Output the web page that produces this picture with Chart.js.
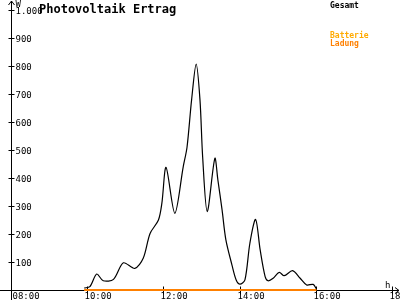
<!DOCTYPE html>
<html>
<head>
<meta charset="utf-8">
<script src="https://cdn.jsdelivr.net/npm/chart.js@4/dist/chart.umd.min.js"></script>
<style>
  html, body { margin: 0; padding: 0; background: #fff; }
  #wrap { width: 400px; height: 300px; }
</style>
</head>
<body>
<div id="wrap"><canvas id="pvChart" width="400" height="300"></canvas></div>
<script>
// values (hours as decimal, watts)
var gesamtTimes = [9.92, 10.07, 10.25, 10.42, 10.69, 10.95, 11.25, 11.47, 11.65, 11.87, 11.96,
  12.07, 12.30, 12.52, 12.62, 12.74, 12.86, 12.96, 13.03, 13.15, 13.35, 13.43, 13.54, 13.64,
  13.80, 13.91, 14.01, 14.14, 14.27, 14.42, 14.54, 14.67, 14.75, 14.88, 15.04, 15.17, 15.39,
  15.59, 15.76, 15.93, 16.02];
var gesamtWatt = [7, 12, 57, 33, 38, 97, 77, 113, 202, 250, 310,
  438, 274, 440, 510, 679, 807, 679, 476, 280, 470, 393, 286, 179,
  89, 36, 21, 36, 167, 252, 143, 48, 33, 42, 63, 51, 69,
  42, 18, 20, 3];
var ladungTimes = [9.92, 16.02];
var ladungWatt = [0, 0];

var xTickHours = [8, 10, 12, 14, 16, 18];
var xTickLabels = ['08:00', '10:00', '12:00', '14:00', '16:00', '18:00'];
var yTickValues = [100, 200, 300, 400, 500, 600, 700, 800, 900, 1000];
var yTickLabels = ['100', '200', '300', '400', '500', '600', '700', '800', '900', '1.000'];

var legendNames = ['Gesamt', 'Batterie', 'Ladung'];
var legendColors = ['#000000', '#ffaa00', '#ff8000'];

var monoFont = '"DejaVu Sans Mono", "Liberation Mono", monospace';

function toPoints(xs, ys) {
  var pts = [];
  for (var i = 0; i < xs.length; i++) pts.push({x: xs[i], y: ys[i]});
  return pts;
}

// axes, ticks and texts drawn the old-fashioned way under the lines
var axesPlugin = {
  id: 'pvAxes',
  beforeDatasetsDraw: function(chart) {
    var ctx = chart.ctx;
    var xs = chart.scales.x;
    var ys = chart.scales.y;
    var x0 = Math.round(xs.getPixelForValue(8)) + 0.5;
    var y0 = Math.round(ys.getPixelForValue(0)) + 0.5;

    ctx.save();
    ctx.strokeStyle = '#000';
    ctx.fillStyle = '#000';
    ctx.lineWidth = 1;

    // y axis with arrow
    ctx.beginPath();
    ctx.moveTo(x0, 300);
    ctx.lineTo(x0, 1);
    ctx.moveTo(x0 - 3, 5);
    ctx.lineTo(x0, 1);
    ctx.lineTo(x0 + 3, 5);
    // x axis with arrow
    ctx.moveTo(0, y0);
    ctx.lineTo(399, y0);
    ctx.moveTo(395, y0 - 3);
    ctx.lineTo(399, y0);
    ctx.lineTo(395, y0 + 3);
    ctx.stroke();

    // y ticks
    ctx.font = '9px ' + monoFont;
    ctx.textAlign = 'left';
    ctx.textBaseline = 'middle';
    for (var i = 0; i < yTickValues.length; i++) {
      var py = Math.round(ys.getPixelForValue(yTickValues[i])) + 0.5;
      ctx.beginPath();
      ctx.moveTo(x0 - 3, py);
      ctx.lineTo(x0 + 3, py);
      ctx.stroke();
      ctx.fillText(yTickLabels[i], x0 + 4, py + 1);
    }
    ctx.fillText('W', x0 + 4, 5);

    // x ticks
    ctx.textBaseline = 'top';
    for (var j = 0; j < xTickHours.length; j++) {
      var px = Math.round(xs.getPixelForValue(xTickHours[j])) + 0.5;
      ctx.beginPath();
      ctx.moveTo(px, y0 - 4);
      ctx.lineTo(px, y0 + 4);
      ctx.stroke();
      ctx.fillText(xTickLabels[j], Math.max(px - 3, x0 + 1), y0 + 2);
    }
    ctx.textBaseline = 'alphabetic';
    ctx.fillText('h', 385, y0 - 3);

    // title
    ctx.font = 'bold 12px ' + monoFont;
    ctx.fillText('Photovoltaik Ertrag', 39, 13);

    // legend texts
    ctx.font = 'bold 8px ' + monoFont;
    ctx.textBaseline = 'top';
    ctx.fillStyle = legendColors[0];
    ctx.fillText(legendNames[0], 330, 2);
    ctx.fillStyle = legendColors[1];
    ctx.fillText(legendNames[1], 330, 32);
    ctx.fillStyle = legendColors[2];
    ctx.fillText(legendNames[2], 330, 40);
    ctx.restore();
  }
};

var pvChart = new Chart(document.getElementById('pvChart'), {
  type: 'line',
  data: {
    datasets: [{
      label: legendNames[0],
      data: toPoints(gesamtTimes, gesamtWatt),
      borderColor: legendColors[0],
      borderWidth: 1.2,
      pointRadius: 0,
      tension: 0.3,
      fill: false,
      clip: false
    }, {
      label: legendNames[2],
      data: toPoints(ladungTimes, ladungWatt),
      borderColor: legendColors[2],
      borderWidth: 2,
      pointRadius: 0,
      fill: false,
      clip: false
    }]
  },
  options: {
    responsive: false,
    animation: false,
    events: [],
    layout: { padding: { left: 11, right: 8, top: 10, bottom: 10 } },
    plugins: {
      legend: { display: false },
      title: { display: false },
      tooltip: { enabled: false }
    },
    scales: {
      x: { type: 'linear', min: 8, max: 18, display: false },
      y: { type: 'linear', min: 0, max: 1000, display: false }
    }
  },
  plugins: [axesPlugin]
});
</script>
</body>
</html>
